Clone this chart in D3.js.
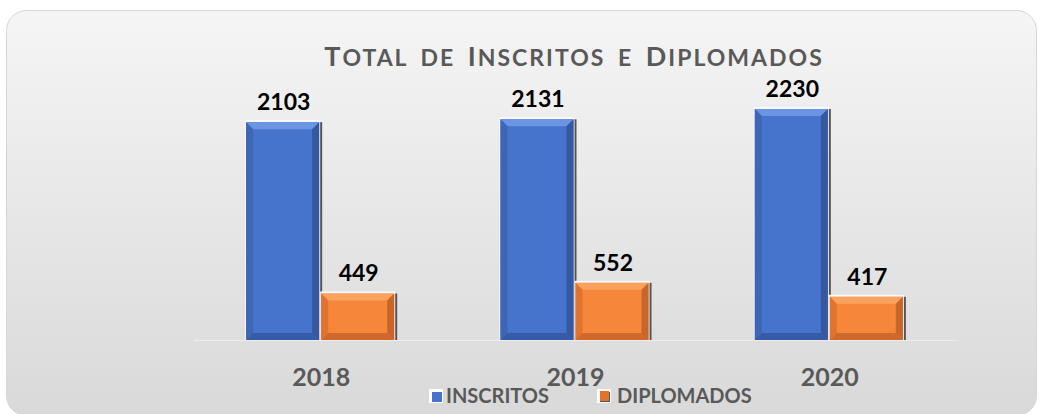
<!DOCTYPE html>
<html>
<head>
<meta charset="utf-8">
<script src="https://cdn.jsdelivr.net/npm/d3@7"></script>
<style>
  html, body { margin: 0; padding: 0; background: #fff; }
  svg { display: block; font-family: Lato, "Open Sans", sans-serif; }
</style>
</head>
<body>
<div id="chart"></div>
<script>
const years = ['2018', '2019', '2020']
const seriesNames = ['INSCRITOS', 'DIPLOMADOS']
const inscritos = [2103, 2131, 2230]
const diplomados = [449, 552, 417]
const titleText = 'Total de Inscritos e Diplomados'

const width = 1041
const height = 414

const colors = {
  INSCRITOS: {main: '#4673cc', light: '#6b95e2', dark: '#3558a0', side: '#3e66b5'},
  DIPLOMADOS: {main: '#f5863a', light: '#fba261', dark: '#c9652a', side: '#e0742f'}
}

const svg = d3.select('#chart')
  .append('svg')
  .attr('width', width)
  .attr('height', height)

const defs = svg.append('defs')
const bg = defs.append('linearGradient')
  .attr('id', 'bg')
  .attr('x1', 0).attr('y1', 0).attr('x2', 0).attr('y2', 1)
bg.append('stop').attr('offset', '0%').attr('stop-color', '#f5f5f5')
bg.append('stop').attr('offset', '100%').attr('stop-color', '#d9d9d9')

// Panel with rounded corners
svg.append('rect')
  .attr('x', 6.5).attr('y', 10.5)
  .attr('width', 1030).attr('height', 405)
  .attr('rx', 20)
  .style('fill', 'url(#bg)')
  .style('stroke', '#d6d6d6')

// Title, drawn as small caps by hand: capitals big, the rest uppercased smaller
const title = svg.append('text')
  .attr('x', 574).attr('y', 66)
  .style('text-anchor', 'middle')
  .style('font-weight', 'bold')
  .style('letter-spacing', '2px')
  .style('word-spacing', '5px')
  .style('fill', '#595959')
const runs = []
titleText.split('').forEach(ch => {
  const big = ch === ch.toUpperCase() && ch !== ' '
  const last = runs[runs.length - 1]
  if (last && last.big === big) last.text += ch
  else runs.push({big, text: ch})
})
title.selectAll('tspan')
  .data(runs)
  .enter()
  .append('tspan')
  .style('font-size', d => d.big ? '27px' : '23px')
  .text(d => d.text.toUpperCase())

// Scales
const x = d3.scaleBand()
  .domain(years)
  .range([194, 957])
  .paddingInner(0.41)
  .paddingOuter(0.205)

const xs = d3.scaleBand()
  .domain(seriesNames)
  .range([0, x.bandwidth()])

const y = d3.scaleLinear()
  .domain([0, 2500])
  .range([340, 81])

const data = years.map((yr, i) => ({
  year: yr,
  values: [
    {name: 'INSCRITOS', value: inscritos[i]},
    {name: 'DIPLOMADOS', value: diplomados[i]}
  ]
}))

// Faint category axis line
svg.append('line')
  .attr('x1', x.range()[0]).attr('x2', x.range()[1])
  .attr('y1', y(0) + 0.5).attr('y2', y(0) + 0.5)
  .style('stroke', '#ececec')
  .style('stroke-width', 1)

const groups = svg.selectAll('.year')
  .data(data)
  .enter()
  .append('g')
  .attr('class', 'year')
  .attr('transform', d => `translate(${x(d.year)},0)`)

const bars = groups.selectAll('.bar')
  .data(d => d.values)
  .enter()
  .append('g')
  .attr('class', 'bar')

const bev = 7

// shadow on the right, highlight on top-left
bars.append('rect')
  .attr('x', d => xs(d.name) + 1)
  .attr('y', d => y(d.value))
  .attr('width', xs.bandwidth())
  .attr('height', d => y(0) - y(d.value))
  .style('fill', '#555')
bars.append('rect')
  .attr('x', d => xs(d.name) - 1)
  .attr('y', d => y(d.value) - 2)
  .attr('width', xs.bandwidth())
  .attr('height', d => y(0) - y(d.value) + 2)
  .style('fill', '#fafafa')

bars.append('rect')
  .attr('x', d => xs(d.name))
  .attr('y', d => y(d.value))
  .attr('width', xs.bandwidth() - 2)
  .attr('height', d => y(0) - y(d.value))
  .style('fill', d => colors[d.name].main)

// bevel facets
bars.each(function(d) {
  const g = d3.select(this)
  const x0 = xs(d.name), x1 = xs(d.name) + xs.bandwidth() - 2
  const y0 = y(d.value), y1 = y(0)
  const c = colors[d.name]
  g.append('polygon')
    .attr('points', [[x0, y0], [x1, y0], [x1 - bev, y0 + bev], [x0 + bev, y0 + bev]].join(' '))
    .style('fill', c.light)
  g.append('polygon')
    .attr('points', [[x0, y0], [x0 + bev, y0 + bev], [x0 + bev, y1 - bev], [x0, y1]].join(' '))
    .style('fill', c.side)
  g.append('polygon')
    .attr('points', [[x1, y0], [x1, y1], [x1 - bev, y1 - bev], [x1 - bev, y0 + bev]].join(' '))
    .style('fill', c.dark)
  g.append('polygon')
    .attr('points', [[x0, y1], [x1, y1], [x1 - bev, y1 - bev], [x0 + bev, y1 - bev]].join(' '))
    .style('fill', c.dark)
    .style('opacity', 0.85)
})

// value labels
bars.append('text')
  .attr('x', d => xs(d.name) + xs.bandwidth() / 2)
  .attr('y', d => y(d.value) - 12)
  .style('text-anchor', 'middle')
  .style('font-size', '23px')
  .style('font-weight', 'bold')
  .style('fill', '#000')
  .text(d => d.value)

// category labels
const xAxis = svg.append('g')
  .attr('transform', 'translate(0,366)')
  .call(d3.axisBottom(x).tickSize(0).tickPadding(0))
xAxis.select('.domain').remove()
xAxis.selectAll('text')
  .attr('dy', '0.8em')
  .style('font-family', 'Lato, sans-serif')
  .style('font-size', '25px')
  .style('font-weight', 'bold')
  .style('fill', '#595959')

// legend
const legendPos = [429, 597]
const legend = svg.selectAll('.legend')
  .data(seriesNames)
  .enter()
  .append('g')
  .attr('class', 'legend')
  .attr('transform', (d, i) => `translate(${legendPos[i]},389)`)

legend.append('rect')
  .attr('x', 0).attr('y', 0)
  .attr('width', 14).attr('height', 14)
  .style('fill', '#fff')
legend.append('rect')
  .attr('x', 3).attr('y', 3)
  .attr('width', 10).attr('height', 10)
  .style('fill', (d, i) => i === 0 ? colors[d].main : '#555')
legend.filter((d, i) => i === 1).append('rect')
  .attr('x', 3).attr('y', 2)
  .attr('width', 9).attr('height', 10)
  .style('fill', colors.DIPLOMADOS.side)
legend.append('text')
  .attr('x', (d, i) => i === 0 ? 17 : 20)
  .attr('y', 14)
  .style('font-size', '20px')
  .style('font-weight', 'bold')
  .style('fill', '#595959')
  .text(d => d)
</script>
</body>
</html>
